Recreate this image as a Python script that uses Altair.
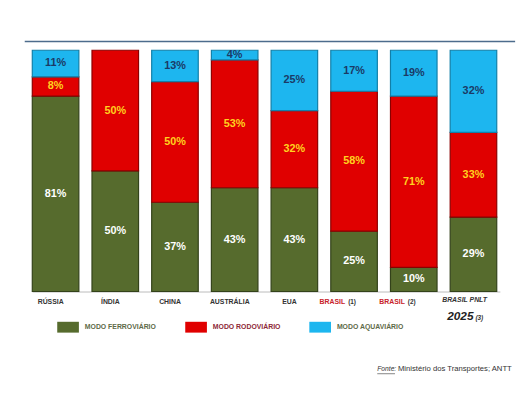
import altair as alt
import pandas as pd

categories = ["RÚSSIA", "ÍNDIA", "CHINA", "AUSTRÁLIA", "EUA", "BRASIL (1)", "BRASIL (2)", "BRASIL PNLT 2025 (3)"]
modes = ["MODO FERROVIÁRIO", "MODO RODOVIÁRIO", "MODO AQUAVIÁRIO"]
ferroviario = [81, 50, 37, 43, 43, 25, 10, 29]
rodoviario = [8, 50, 50, 53, 32, 58, 71, 33]
aquaviario = [11, 0, 13, 4, 25, 17, 19, 32]

plain_cats = ["RÚSSIA", "ÍNDIA", "CHINA", "AUSTRÁLIA", "EUA"]
brasil_cats = ["BRASIL (1)", "BRASIL (2)"]
brasil_words = ["BRASIL", "BRASIL"]
brasil_notes = ["(1)", "(2)"]
pnlt_cat = "BRASIL PNLT 2025 (3)"
pnlt_line1 = "BRASIL PNLT"
pnlt_year = "2025"
pnlt_note = "(3)"
source_prefix = "Fonte:"
source_rest = "Ministério dos Transportes; ANTT"

GREEN, RED, BLUE = "#566B2D", "#E00000", "#1DB6EF"
GREEN_D, RED_D, BLUE_D = "#33421A", "#8A0000", "#127FA8"

rows = []
for i, c in enumerate(categories):
    vals = [ferroviario[i], rodoviario[i], aquaviario[i]]
    total = sum(vals)
    start = 0
    for m, v in zip(modes, vals):
        if v == 0:
            continue
        rows.append(dict(cat=c, mode=m, v=v, y0=start / total, y1=(start + v) / total,
                         label=f"{v}%"))
        start += v
df = pd.DataFrame(rows)

xenc = alt.X("cat:N", sort=categories, axis=None,
             scale=alt.Scale(paddingInner=0.22, paddingOuter=0.11))

base = alt.Chart(df)

bars = base.mark_bar(strokeWidth=1.2).encode(
    x=xenc,
    y=alt.Y("y0:Q", scale=alt.Scale(domain=[0, 1]), axis=None),
    y2="y1",
    color=alt.Color("mode:N", scale=alt.Scale(domain=modes, range=[GREEN, RED, BLUE]),
                    legend=alt.Legend(
                        title=None, orient="none", legendX=32, legendY=270,
                        direction="horizontal", columnPadding=29, padding=0,
                        symbolType="M-1,-0.5H1V0.5H-1Z", symbolSize=484,
                        symbolStrokeWidth=0,
                        labelOffset=6, labelFont="Liberation Sans", labelFontSize=7,
                        labelFontWeight="bold",
                        labelColor=alt.ExprRef("datum.label == 'MODO RODOVIÁRIO' ? '#8E2A38' : '#5E6A48'"))),
    stroke=alt.Stroke("mode:N", scale=alt.Scale(domain=modes, range=[GREEN_D, RED_D, BLUE_D]),
                      legend=None),
)

def seg_text(mode, color):
    return base.transform_filter(alt.datum.mode == mode).transform_calculate(
        mid="(datum.y0 + datum.y1) / 2"
    ).mark_text(font="Liberation Sans", fontSize=11, fontWeight="bold", color=color,
                baseline="middle").encode(x=xenc, y=alt.Y("mid:Q"), text="label:N")

t_green = seg_text(modes[0], "white")
t_red = seg_text(modes[1], "#FFD21F")
t_blue = seg_text(modes[2], "#1B3A66")

plain_df = pd.DataFrame({"cat": plain_cats, "t": plain_cats})
plain = alt.Chart(plain_df).mark_text(font="Liberation Sans", fontSize=7, fontWeight="bold",
                                      color="#333333", baseline="middle", dx=-5).encode(
    x=xenc, y=alt.value(256), text="t:N")

br_df = pd.DataFrame({"cat": brasil_cats, "w": brasil_words, "n": brasil_notes})
br_word = alt.Chart(br_df).mark_text(font="Liberation Sans", fontSize=7, fontWeight="bold",
                                     color="#C8232B", baseline="middle", align="right", dx=-9).encode(
    x=xenc, y=alt.value(256), text="w:N")
br_note = alt.Chart(br_df).mark_text(font="Liberation Sans", fontSize=6.5, fontWeight="bold",
                                     color="#333333", baseline="middle", align="left", dx=-6).encode(
    x=xenc, y=alt.value(256), text="n:N")

p_df = pd.DataFrame({"cat": [pnlt_cat], "a": [pnlt_line1], "b": [pnlt_year], "c": [pnlt_note]})
p1 = alt.Chart(p_df).mark_text(font="Liberation Sans", fontSize=7, fontWeight="bold", fontStyle="italic",
                               color="#333333", baseline="middle", dx=-9).encode(
    x=xenc, y=alt.value(254), text="a:N")
p2 = alt.Chart(p_df).mark_text(font="Liberation Sans", fontSize=12, fontWeight="bold", fontStyle="italic",
                               color="#222222", baseline="alphabetic", align="right", dx=0).encode(
    x=xenc, y=alt.value(274), text="b:N")
p3 = alt.Chart(p_df).mark_text(font="Liberation Sans", fontSize=6.5, fontWeight="bold", fontStyle="italic",
                               color="#333333", baseline="alphabetic", align="left", dx=2).encode(
    x=xenc, y=alt.value(274), text="c:N")

top_line = alt.Chart(pd.DataFrame({"a": [0]})).mark_rule(color="#4D6C8C", strokeWidth=1.5).encode(
    x=alt.value(-1), x2=alt.value(497), y=alt.value(-9))
base_line = alt.Chart(pd.DataFrame({"a": [0]})).mark_rule(color="#BBBBBB", strokeWidth=1).encode(
    x=alt.value(7), x2=alt.value(482), y=alt.value(245.5))

src1 = alt.Chart(pd.DataFrame({"t": [source_prefix]})).mark_text(
    font="Liberation Sans", fontSize=6.8, fontStyle="italic", color="#333333", align="left",
    baseline="middle").encode(x=alt.value(357), y=alt.value(324), text="t:N")
src_ul = alt.Chart(pd.DataFrame({"a": [0]})).mark_rule(color="#333333", strokeWidth=0.6).encode(
    x=alt.value(357), x2=alt.value(375), y=alt.value(328.5))
src2 = alt.Chart(pd.DataFrame({"t": [source_rest]})).mark_text(
    font="Liberation Sans", fontSize=7.8, color="#333333", align="left",
    baseline="middle").encode(x=alt.value(378), y=alt.value(324), text="t:N")

chart = alt.layer(
    top_line, base_line, bars, t_green, t_red, t_blue,
    plain, br_word, br_note, p1, p2, p3, src1, src_ul, src2
).properties(
    width=485, height=245,
    autosize=alt.AutoSizeParams(type="none"),
    padding={"left": 18, "top": 40, "right": 20, "bottom": 90},
    background="white",
).configure_view(stroke=None)

chart.save("out.html", embed_options={"renderer": "svg", "actions": False})
